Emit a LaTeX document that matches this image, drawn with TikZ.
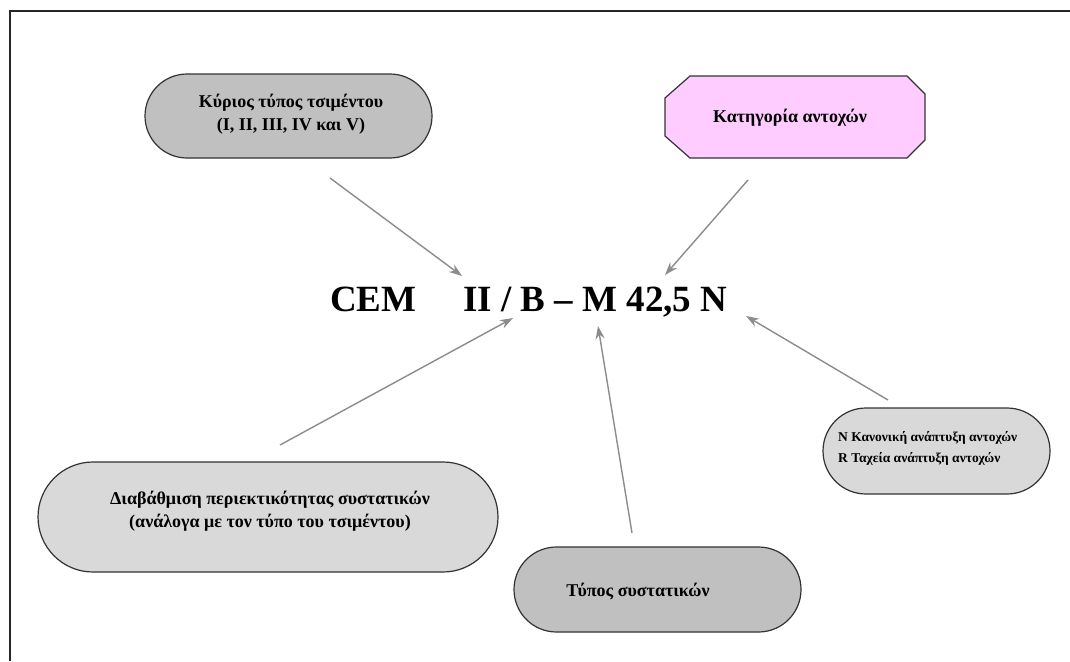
\documentclass[tikz,border=0pt]{standalone}
\usepackage{fontspec}
\setmainfont{Liberation Serif}
\usetikzlibrary{shapes.misc,arrows.meta}
\definecolor{gdark}{HTML}{C0C0C0}
\definecolor{glight}{HTML}{D9D9D9}
\definecolor{pinkbox}{HTML}{FFCCFF}
\definecolor{arrowgray}{HTML}{8C8C8C}
\definecolor{edge}{HTML}{333333}
\tikzset{
  stad/.style={rounded rectangle, draw=edge, line width=1.2pt, inner sep=0pt},
  boxtext/.style={font=\bfseries\fontsize{18}{23}\selectfont, align=center, inner sep=0pt},
  smalltext/.style={font=\bfseries\fontsize{13.5}{21}\selectfont, align=left, inner sep=0pt},
  bigtext/.style={font=\bfseries\fontsize{37}{40}\selectfont, inner sep=0pt},
  pointer/.style={draw=arrowgray, line width=1.4pt, -{Stealth[length=13pt,width=9pt]}},
}
\begin{document}
\begin{tikzpicture}[x=1pt,y=-1pt]
\useasboundingbox (0,0) rectangle (1070,661);
\fill[white] (0,0) rectangle (1070,661);
\draw[line width=2pt, black!85] (10,661) -- (10,11) -- (1070,11);

% top-left box
\node[stad, fill=gdark, minimum width=287, minimum height=84] (main) at (288.5,116) {};
\node[boxtext] (maintext) at (291,114) {Κύριος τύπος τσιμέντου\\(I, II, III, IV και V)};

% pink octagon
\filldraw[fill=pinkbox, draw=edge, line width=1.2pt]
  (690,76) -- (907,76) -- (925,94) -- (925,140) -- (907,158) -- (690,158) -- (665,136) -- (665,98) -- cycle;
\node[boxtext] (kat) at (790,118) {Κατηγορία αντοχών};

% central code
\node[bigtext, anchor=base west] (cem) at (330,311) {CEM};
\node[bigtext, anchor=base west] (code) at (463,311) {II / B – M 42,5 N};

% bottom-left box
\node[stad, fill=glight, minimum width=460, minimum height=110] (grad) at (268,517) {};
\node[boxtext] (gradtext) at (270,511) {Διαβάθμιση περιεκτικότητας συστατικών\\(ανάλογα με τον τύπο του τσιμέντου)};

% bottom-middle box
\node[stad, fill=gdark, minimum width=287, minimum height=85] (typ) at (657.5,589.5) {};
\node[boxtext] (typtext) at (638,592) {Τύπος συστατικών};

% right box
\node[stad, fill=glight, minimum width=227, minimum height=86] (dev) at (936.5,451) {};
\node[smalltext, anchor=west] (devtext) at (838,448) {N Κανονική ανάπτυξη αντοχών\\R Ταχεία ανάπτυξη αντοχών};

% arrows
\coordinate (a1) at (330,178); \coordinate (a2) at (462,276);
\coordinate (b1) at (748,180); \coordinate (b2) at (665,275);
\coordinate (c1) at (280,445); \coordinate (c2) at (513,318);
\coordinate (d1) at (632,533); \coordinate (d2) at (598,326);
\coordinate (e1) at (888,400); \coordinate (e2) at (746,316);
\draw[pointer] (a1) -- (a2);
\draw[pointer] (b1) -- (b2);
\draw[pointer] (c1) -- (c2);
\draw[pointer] (d1) -- (d2);
\draw[pointer] (e1) -- (e2);
\end{tikzpicture}
\end{document}
